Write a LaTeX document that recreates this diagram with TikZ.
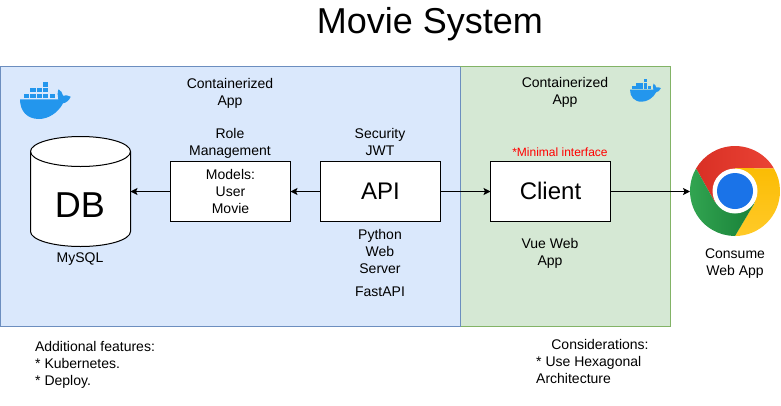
\documentclass[tikz,border=0pt]{standalone}
\usepackage{fontspec}
\setmainfont{Liberation Sans}
\usetikzlibrary{arrows.meta}
\definecolor{bluefill}{HTML}{DAE8FC}
\definecolor{blueline}{HTML}{6C8EBF}
\definecolor{greenfill}{HTML}{D5E8D4}
\definecolor{greenline}{HTML}{82B366}
\definecolor{dockerblue}{HTML}{2396ED}
\definecolor{chromeredl}{HTML}{D93025}
\definecolor{chromeredr}{HTML}{EA4335}
\definecolor{chromeyellowa}{HTML}{FBBC04}
\definecolor{chromeyellowb}{HTML}{FFCA28}
\definecolor{chromegreena}{HTML}{34A853}
\definecolor{chromegreenb}{HTML}{188038}
\definecolor{chromeblue}{HTML}{1A73E8}
\tikzset{x=1pt,y=-1pt,
 box/.style={draw=black,fill=white,line width=1pt,inner sep=0pt,outer sep=0pt,align=center,anchor=north west,minimum width=120pt,minimum height=60pt},
 lbl/.style={font=\fontsize{14pt}{17pt}\selectfont,align=center,inner sep=0pt,text=black},
 lbll/.style={font=\fontsize{14pt}{17pt}\selectfont,align=left,inner sep=0pt,anchor=west,text=black},
 conn/.style={draw=black,line width=1pt,-{Stealth[length=7pt,width=7pt,inset=1.5pt]}}}
\newcommand{\whale}[3]{%
\begin{scope}[shift={(#1,#2)},scale=#3]
 \fill[dockerblue] (0,14.3) -- (38.3,14.3) .. controls (37.3,11) and (37.5,7) .. (38.5,4.3) .. controls (41,5.5) and (42.5,8) .. (43,10.6) .. controls (45.5,10) and (48.5,10.3) .. (50.7,11.7) .. controls (49,16) and (45.5,18) .. (43,18.3) .. controls (38,28) and (28,34) .. (19,34) .. controls (7,34) and (0,26) .. (0,14.3) -- cycle;
 \foreach \x in {4,10.4,16.8,23.2,29.6}{\fill[dockerblue] (\x,8.5) -- ++(5.2,0) -- ++(0,4.8) -- ++(-5.2,0) -- cycle;}
 \foreach \x in {10.4,16.8,23.2}{\fill[dockerblue] (\x,2.6) -- ++(5.2,0) -- ++(0,4.8) -- ++(-5.2,0) -- cycle;}
 \fill[dockerblue] (23.2,-3.3) -- ++(5.2,0) -- ++(0,4.8) -- ++(-5.2,0) -- cycle;
\end{scope}}
\begin{document}
\begin{tikzpicture}
\useasboundingbox (0,0) rectangle (781,405);
\fill[white] (0,0) rectangle (781,405);
\node[inner sep=0pt,font=\fontsize{36pt}{40pt}\selectfont] (title) at (430,24) {Movie System};
\draw[fill=bluefill,draw=blueline,line width=1pt] (0.5,66.5) rectangle (460.5,326.5);
\draw[fill=greenfill,draw=greenline,line width=1pt] (460.5,66.5) rectangle (670.5,326.5);
\draw[draw=blueline,line width=1pt] (460.5,66.5) -- (460.5,326.5);
\whale{20}{85}{1}
\whale{630}{81}{0.61}
% DB
\path[fill=white,draw=black,line width=1pt] (30.5,151.5) -- (30.5,231.5) arc[start angle=180,end angle=0,x radius=50,y radius=15] -- (130.5,151.5) arc[start angle=0,end angle=-180,x radius=50,y radius=15] -- cycle;
\draw[line width=1pt] (30.5,151.5) arc[start angle=180,end angle=0,x radius=50,y radius=15];
\node[inner sep=0pt,font=\fontsize{36pt}{40pt}\selectfont] (db) at (80,205) {DB};
\node[box,font=\fontsize{14pt}{17pt}\selectfont] (models) at (170.5,161.5) {Models:\\User\\Movie};
\node[box,font=\fontsize{24pt}{28pt}\selectfont] (api) at (320.5,161.5) {API};
\node[box,font=\fontsize{24pt}{28pt}\selectfont] (client) at (490.5,161.5) {\raisebox{0.7pt}{Client}};
\coordinate (dbe) at (130.5,191.5);
\coordinate (chrome) at (690,191.5);
\draw[conn] (models.west) -- (dbe);
\draw[conn] (api.west) -- (models.east);
\draw[conn] (api.east) -- (client.west);
\draw[conn] (client.east) -- (chrome);
% chrome
\begin{scope}[shift={(735,191)}]
 \fill[white] (0,0) circle (45);
 \shade[left color=chromeredl,right color=chromeredr] (0,0) -- (0,-23) -- (-30:45) arc[start angle=-30,end angle=-150,radius=45] -- (150:23) -- cycle;
 \shade[top color=chromeyellowa,bottom color=chromeyellowb] (0,0) -- (30:23) -- (90:45) arc[start angle=90,end angle=-30,radius=45] -- (0,-23) -- cycle;
 \shade[left color=chromegreena,right color=chromegreenb] (0,0) -- (150:23) -- (210:45) arc[start angle=210,end angle=90,radius=45] -- (30:23) -- cycle;
 \fill[white] (0,0) circle (22.5);
 \fill[chromeblue] (0,0) circle (18);
\end{scope}
\node[lbl] (l1) at (230,93.5) {Containerized\\App};
\node[lbl] (l2) at (565,92.5) {Containerized\\App};
\node[lbl] (l3) at (230,143.5) {Role\\Management};
\node[lbl] (l4) at (380,141.5) {Security\\JWT};
\node[inner sep=0pt,text=red,font=\fontsize{12pt}{14pt}\selectfont] (l5) at (560,152) {*Minimal interface};
\node[lbl] (l6) at (80,259) {MySQL};
\node[lbl] (l7) at (380,251) {Python\\Web\\Server};
\node[lbl] (l8) at (380,292) {FastAPI};
\node[lbl] (l9) at (550,253.5) {Vue Web\\App};
\node[lbl] (l10) at (735,263.5) {Consume\\Web App};
\node[lbl] (l11) at (95,346) {Additional features:};
\node[lbll] (l12) at (35,373.5) {* Kubernetes.\\* Deploy.};
\node[lbl] (l13) at (600,344) {Considerations:};
\node[lbll] (l14) at (536,369.5) {* Use Hexagonal\\Architecture};
\end{tikzpicture}
\end{document}
